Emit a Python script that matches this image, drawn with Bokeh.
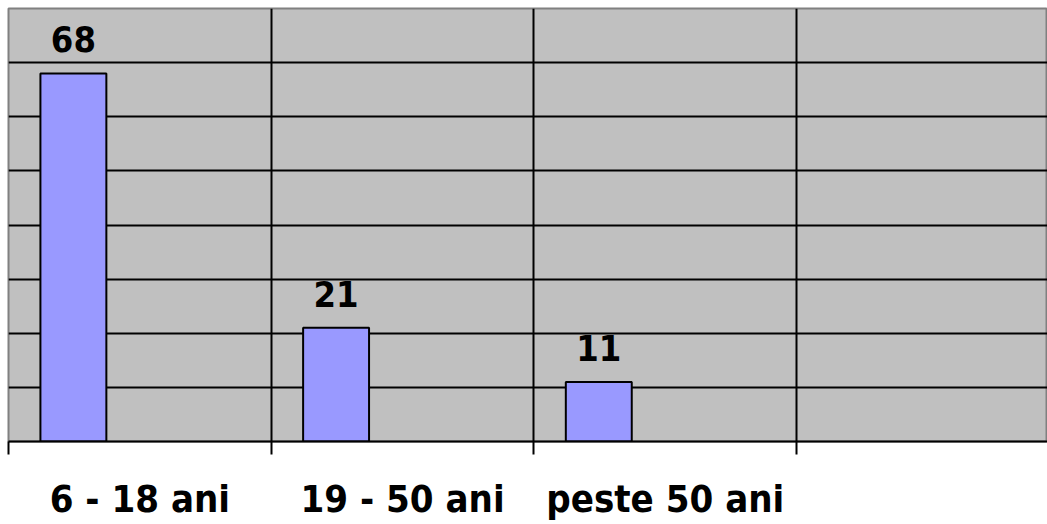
from bokeh.plotting import figure
from bokeh.models import Range1d, FixedTicker, ColumnDataSource
from bokeh.core.properties import value
from bokeh.embed import file_html
from bokeh.resources import INLINE

categories = ["6 - 18 ani", "19 - 50 ani", "peste 50 ani"]
values = [68, 21, 11]
value_labels = ["68", "21", "11"]

FONT = "DejaVu Sans Condensed"
bar_offset = 0.247
bar_width = 0.251

xs = [i + bar_offset for i in range(len(categories))]
src = ColumnDataSource(dict(x=xs, top=values, lab=value_labels))

p = figure(width=1047, height=524, output_backend="svg", toolbar_location=None,
           x_range=Range1d(0, 1039 / 262.7), y_range=Range1d(0, 80),
           y_axis_location=None,
           min_border_left=8, min_border_right=0, min_border_top=8, min_border_bottom=83)

p.background_fill_color = "#C0C0C0"
p.border_fill_color = "white"
p.outline_line_color = "#808080"
p.outline_line_width = 2

p.vbar(x="x", top="top", width=bar_width, bottom=0, source=src,
       fill_color="#9999FF", line_color="black", line_width=2)

p.text(x="x", y="top", text="lab", source=src, text_align="center",
       text_baseline="alphabetic", y_offset=-34,
       text_font=value(FONT), text_font_style="bold", text_font_size="36px",
       text_color="black")

# axis
ax = p.xaxis[0]
ax.ticker = FixedTicker(ticks=[i + 0.5 for i in range(len(categories))],
                        minor_ticks=[0, 1, 2, 3])
ax.major_label_overrides = {i + 0.5: c for i, c in enumerate(categories)}
ax.major_tick_line_color = None
ax.major_tick_out = 0
ax.major_tick_in = 0
ax.minor_tick_out = 13
ax.minor_tick_in = 0
ax.minor_tick_line_color = "black"
ax.minor_tick_line_width = 2
ax.axis_line_color = "black"
ax.axis_line_width = 2
ax.major_label_standoff = 22
ax.major_label_text_font = FONT
ax.major_label_text_font_style = "bold"
ax.major_label_text_font_size = "38px"
ax.major_label_text_color = "black"

p.xgrid.ticker = FixedTicker(ticks=[1, 2, 3])
p.xgrid.grid_line_color = "black"
p.xgrid.grid_line_width = 2
p.ygrid.ticker = FixedTicker(ticks=[10, 20, 30, 40, 50, 60, 70])
p.ygrid.grid_line_color = "black"
p.ygrid.grid_line_width = 2

open("out.html", "w").write(file_html(p, INLINE))
